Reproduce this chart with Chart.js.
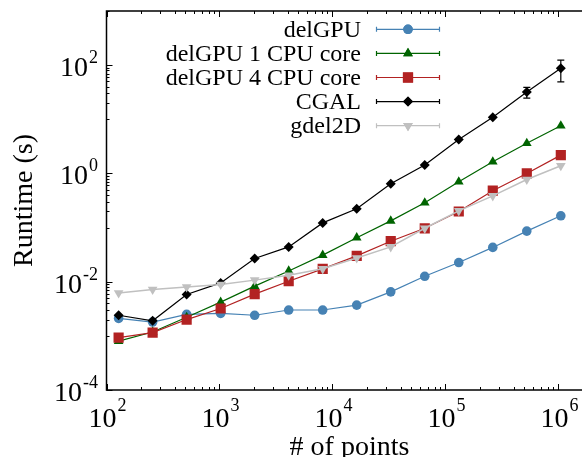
<!DOCTYPE html>
<html>
<head>
<meta charset="utf-8">
<script src="https://cdn.jsdelivr.net/npm/chart.js"></script>
<style>
    html, body { margin: 0; padding: 0; background: #fff; overflow: hidden; }
    #wrap { position: relative; width: 600px; height: 457px; }
</style>
</head>
<body>
<div id="wrap"><canvas id="runtimeChart" width="600" height="457"></canvas></div>
<script>
// number of input points (2^7 .. 2^20)
var points = [128, 256, 512, 1024, 2048, 4096, 8192, 16384, 32768, 65536, 131072, 262144, 524288, 1048576];

// runtimes in seconds
var delGPU      = [0.0021, 0.0018, 0.0025, 0.0026, 0.0024, 0.0030, 0.0030, 0.0037, 0.0065, 0.0126, 0.0226, 0.043, 0.086, 0.165];
var delGPU1Core = [0.0008, 0.00118, 0.0022, 0.0042, 0.0083, 0.0158, 0.031, 0.065, 0.133, 0.287, 0.70, 1.64, 3.6, 7.6];
var delGPU4Core = [0.00093, 0.00115, 0.0020, 0.0032, 0.0059, 0.0102, 0.0173, 0.030, 0.056, 0.097, 0.198, 0.48, 1.0, 2.18];
var cgal        = [0.0024, 0.0019, 0.0058, 0.0095, 0.0268, 0.044, 0.122, 0.222, 0.644, 1.43, 4.25, 10.9, 32, 87.5];
var gdel2D      = [0.0062, 0.0072, 0.0080, 0.0089, 0.0107, 0.0132, 0.0173, 0.0275, 0.044, 0.097, 0.204, 0.386, 0.774, 1.39];

// CGAL error bars (only visible on the two largest inputs)
var cgalErrLow  = [null, null, null, null, null, null, null, null, null, null, null, null, 24.5, 49];
var cgalErrHigh = [null, null, null, null, null, null, null, null, null, null, null, null, 38.7, 124];

var seriesNames = ['delGPU', 'delGPU 1 CPU core', 'delGPU 4 CPU core', 'CGAL', 'gdel2D'];
var xTickExponents = [2, 3, 4, 5, 6];
var yTickExponents = [-4, -2, 0, 2];

var FONT = '"Liberation Serif", "Times New Roman", serif';

var styles = [
    { color: '#4682b4', point: 'circle',   radius: 4.8, rotation: 0 },
    { color: '#006400', point: 'triangle', radius: 5.6, rotation: 0 },
    { color: '#b22222', point: 'rect',     radius: 7.2, rotation: 0 },
    { color: '#000000', point: 'rectRot',  radius: 5,   rotation: 0 },
    { color: '#c0c0c0', point: 'triangle', radius: 5.6, rotation: 180 }
];

function toXY(ys) {
    return points.map(function (p, i) { return { x: p, y: ys[i] }; });
}

var allSeries = [delGPU, delGPU1Core, delGPU4Core, cgal, gdel2D];
var datasets = allSeries.map(function (vals, i) {
    var s = styles[i];
    return {
        label: seriesNames[i],
        data: toXY(vals),
        borderColor: s.color,
        backgroundColor: s.color,
        borderWidth: i === 4 ? 1.5 : 1.2,
        pointStyle: s.point,
        pointRadius: s.radius,
        pointRotation: s.rotation,
        pointBorderWidth: 0,
        pointBackgroundColor: s.color,
        order: 5 - i,   // later series drawn on top, like gnuplot
        tension: 0
    };
});

function markerPath(ctx, style, x, y) {
    if (Chart.helpers && Chart.helpers.drawPoint) {
        Chart.helpers.drawPoint(ctx, { pointStyle: style.point, radius: style.radius, rotation: style.rotation, borderWidth: 0 }, x, y);
        return;
    }
    ctx.beginPath();
    ctx.arc(x, y, style.radius, 0, Math.PI * 2);
    ctx.fill();
}

// draws "10" with a raised exponent
function drawPower(ctx, exp, left, baseY, supY) {
    ctx.font = '28px ' + FONT;
    ctx.textAlign = 'left';
    ctx.textBaseline = 'alphabetic';
    ctx.fillText('10', left, baseY);
    var w = ctx.measureText('10').width;
    ctx.font = '18px ' + FONT;
    ctx.fillText(String(exp), left + w + 1, supY);
}

function powerWidth(ctx, exp) {
    ctx.font = '28px ' + FONT;
    var w = ctx.measureText('10').width;
    ctx.font = '18px ' + FONT;
    return w + 1 + ctx.measureText(String(exp)).width;
}

var framePlugin = {
    id: 'frame',
    afterDraw: function (chart) {
        var ctx = chart.ctx, a = chart.chartArea;
        var xs = chart.scales.x, ys = chart.scales.y;
        ctx.save();
        ctx.fillStyle = '#000';
        ctx.strokeStyle = '#000';

        // CGAL error bars
        ctx.lineWidth = 1.2;
        points.forEach(function (p, i) {
            if (cgalErrLow[i] == null) return;
            var px = xs.getPixelForValue(p);
            var top = ys.getPixelForValue(cgalErrHigh[i]);
            var bot = ys.getPixelForValue(cgalErrLow[i]);
            ctx.beginPath();
            ctx.moveTo(px, top); ctx.lineTo(px, bot);
            ctx.moveTo(px - 3.5, top); ctx.lineTo(px + 3.5, top);
            ctx.moveTo(px - 3.5, bot); ctx.lineTo(px + 3.5, bot);
            ctx.stroke();
        });

        // frame
        ctx.lineWidth = 1.5;
        ctx.strokeRect(a.left, a.top, a.right - a.left, a.bottom - a.top);

        // x ticks: major every decade, minor 2..9
        ctx.lineWidth = 1;
        ctx.beginPath();
        for (var e = xTickExponents[0]; e <= xTickExponents[xTickExponents.length - 1] + 1; e++) {
            for (var k = 1; k <= 9; k++) {
                var v = k * Math.pow(10, e);
                if (v < xs.min || v > xs.max) continue;
                var px = Math.round(xs.getPixelForValue(v)) + 0.5;
                var len = k === 1 ? 6 : 3;
                ctx.moveTo(px, a.bottom); ctx.lineTo(px, a.bottom - len);
                ctx.moveTo(px, a.top); ctx.lineTo(px, a.top + len);
            }
        }
        // y ticks: major every two decades, minor k*10^odd
        for (var m = -4; m <= 3; m++) {
            for (var j = 1; j <= 9; j++) {
                var major = (j === 1 && yTickExponents.indexOf(m) >= 0);
                var minor = (m % 2 !== 0);
                if (!major && !minor) continue;
                var vy = j * Math.pow(10, m);
                if (vy < ys.min || vy > ys.max) continue;
                var py = Math.round(ys.getPixelForValue(vy)) + 0.5;
                var ln = major ? 6 : 3;
                ctx.moveTo(a.left, py); ctx.lineTo(a.left + ln, py);
                ctx.moveTo(a.right, py); ctx.lineTo(a.right - ln, py);
            }
        }
        ctx.stroke();

        // tick labels
        xTickExponents.forEach(function (ex) {
            var px = xs.getPixelForValue(Math.pow(10, ex));
            var w = powerWidth(ctx, ex);
            drawPower(ctx, ex, px - w / 2 + 1, a.bottom + 37, a.bottom + 21);
        });
        yTickExponents.forEach(function (ex) {
            var py = ys.getPixelForValue(Math.pow(10, ex));
            var w = powerWidth(ctx, ex);
            drawPower(ctx, ex, 98 - w, py + 11, py - 2);
        });

        // axis titles
        ctx.font = '28px ' + FONT;
        ctx.textAlign = 'center';
        ctx.textBaseline = 'alphabetic';
        ctx.fillText('# of points', (a.left + a.right) / 2, 455);
        ctx.save();
        ctx.translate(32, (a.top + a.bottom) / 2);
        ctx.rotate(-Math.PI / 2);
        ctx.fillText('Runtime (s)', 0, 0);
        ctx.restore();

        // legend: right-aligned names, sample with error-bar caps
        ctx.font = '24px ' + FONT;
        ctx.textAlign = 'right';
        seriesNames.forEach(function (name, i) {
            var ry = 29.3 + i * 24.1;
            var s = styles[i];
            ctx.fillStyle = '#000';
            ctx.fillText(name, 361, ry + 7.5);
            ctx.strokeStyle = s.color;
            ctx.lineWidth = 1.2;
            ctx.beginPath();
            ctx.moveTo(376, ry); ctx.lineTo(440, ry);
            ctx.moveTo(376.5, ry - 2.5); ctx.lineTo(376.5, ry + 2.5);
            ctx.moveTo(439.5, ry - 2.5); ctx.lineTo(439.5, ry + 2.5);
            ctx.stroke();
            ctx.fillStyle = s.color;
            markerPath(ctx, s, 408, ry);
            ctx.fill();
        });
        ctx.restore();
    }
};

new Chart(document.getElementById('runtimeChart').getContext('2d'), {
    type: 'line',
    data: { datasets: datasets },
    options: {
        responsive: false,
        animation: false,
        devicePixelRatio: 1,
        layout: { padding: { left: 0, top: 11, right: 7.5, bottom: 0 } },
        scales: {
            x: {
                type: 'logarithmic',
                min: 100,
                max: 2e6,
                grid: { display: false },
                border: { display: false },
                ticks: { display: false },
                afterFit: function (scale) { scale.height = 67; }
            },
            y: {
                type: 'logarithmic',
                min: 1e-4,
                max: 1e3,
                grid: { display: false },
                border: { display: false },
                ticks: { display: false },
                afterFit: function (scale) { scale.width = 106.5; }
            }
        },
        plugins: {
            legend: { display: false },
            tooltip: { enabled: false }
        }
    },
    plugins: [framePlugin]
});
</script>
</body>
</html>
